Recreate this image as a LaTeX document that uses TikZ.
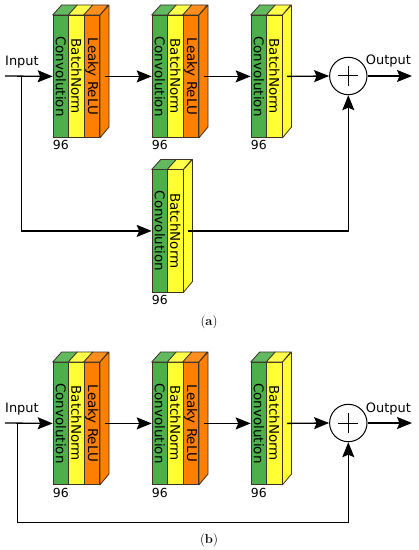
\documentclass[tikz,border=0pt]{standalone}
\usepackage{fontspec}
\usepackage{graphicx}
\newfontfamily\dv{DejaVu Sans}
\usetikzlibrary{arrows.meta}
\definecolor{cgreen}{RGB}{77,175,74}
\definecolor{cyellow}{RGB}{255,255,51}
\definecolor{corange}{RGB}{255,127,0}
\definecolor{edgec}{RGB}{60,50,40}
\tikzset{
 lay/.style={draw=edgec, line width=0.8bp, minimum width=15.5bp, minimum height=122bp, inner sep=0pt, anchor=north west, font=\dv\fontsize{13.5}{15}\selectfont},
 face/.style={draw=edgec, line width=0.8bp, line join=round},
 conn/.style={line width=1.3bp, black},
 arr/.style={conn, -{Stealth[length=15bp,width=12bp,inset=2.5bp]}},
 lbl/.style={font=\dv\fontsize{13}{15}\selectfont, inner sep=0pt, anchor=base west},
 num/.style={font=\dv\fontsize{12.5}{14}\selectfont, inner sep=0pt, anchor=base west},
 captext/.style={font=\fontsize{13}{15}\selectfont, inner sep=0pt},
 sumnode/.style={draw, circle, line width=1bp, minimum size=37.4bp, inner sep=0pt},
}
\newcommand\lyr[5]{%
 \node[lay, fill=#4] (#1) at (#2,#3) {\rotatebox{-90}{#5}};
 \draw[face, fill=#4!88!white] (#1.north west) -- ++(9,-10) -- ++(15.5,0) -- (#1.north east) -- cycle;
}
\newcommand\sidef[2]{%
 \draw[face, fill=#2] (#1.north east) -- ++(9,-10) -- ++(0,122) -- (#1.south east) -- cycle;
}
\newcommand\plusin[1]{%
 \draw[line width=1bp] ([xshift=-10bp]#1.center) -- ([xshift=10bp]#1.center);
 \draw[line width=1bp] ([yshift=-10bp]#1.center) -- ([yshift=10bp]#1.center);
}
\begin{document}
\begin{tikzpicture}[x=1bp,y=-1bp]
\useasboundingbox[fill=white] (0,0) rectangle (418,550);
% ---------------- (a) ----------------
\lyr{ga1}{52.7}{15}{cgreen}{Convolution}
\lyr{ya1}{68.2}{15}{cyellow}{BatchNorm}
\lyr{oa1}{83.7}{15}{corange}{Leaky ReLU}
\sidef{oa1}{corange}
\node[num] (na1) at (52.7,150) {96};
\lyr{ga2}{151.7}{15}{cgreen}{Convolution}
\lyr{ya2}{167.2}{15}{cyellow}{BatchNorm}
\lyr{oa2}{182.7}{15}{corange}{Leaky ReLU}
\sidef{oa2}{corange}
\node[num] (na2) at (151.7,150) {96};
\lyr{ga3}{250.7}{15}{cgreen}{Convolution}
\lyr{ya3}{266.2}{15}{cyellow}{BatchNorm}
\sidef{ya3}{cyellow}
\node[num] (na3) at (250.7,150) {96};
\lyr{ga4}{151.7}{169.5}{cgreen}{Convolution}
\lyr{ya4}{167.2}{169.5}{cyellow}{BatchNorm}
\sidef{ya4}{cyellow}
\node[num] (na4) at (151.7,304.5) {96};
\node[sumnode] (sa) at (348.3,76) {};
\plusin{sa}
\node[lbl] (ina) at (5,65.5) {Input};
\node[lbl] (outa) at (365.7,64.7) {Output};
\coordinate (sta) at (5,76);
\coordinate (bra) at (21.7,76);
\coordinate (enda) at (412,76);
\draw[arr] (sta) -- (ga1.west);
\draw[arr] (bra) |- (ga4.west);
\draw[arr] ([xshift=4.5bp]oa1.east) -- (ga2.west);
\draw[arr] ([xshift=4.5bp]oa2.east) -- (ga3.west);
\draw[arr] ([xshift=4.5bp]ya3.east) -- (sa.west);
\draw[arr] (sa.east) -- (enda);
\draw[arr] ([xshift=4.5bp]ya4.east) -| (sa.south);
\node[captext] (capa) at (209,322) {(\textbf{a})};
% ---------------- (b) ----------------
\lyr{gb1}{52.7}{362}{cgreen}{Convolution}
\lyr{yb1}{68.2}{362}{cyellow}{BatchNorm}
\lyr{ob1}{83.7}{362}{corange}{Leaky ReLU}
\sidef{ob1}{corange}
\node[num] (nb1) at (52.7,497) {96};
\lyr{gb2}{151.7}{362}{cgreen}{Convolution}
\lyr{yb2}{167.2}{362}{cyellow}{BatchNorm}
\lyr{ob2}{182.7}{362}{corange}{Leaky ReLU}
\sidef{ob2}{corange}
\node[num] (nb2) at (151.7,497) {96};
\lyr{gb3}{250.7}{362}{cgreen}{Convolution}
\lyr{yb3}{266.2}{362}{cyellow}{BatchNorm}
\sidef{yb3}{cyellow}
\node[num] (nb3) at (250.7,497) {96};
\node[sumnode] (sb) at (348.3,423) {};
\plusin{sb}
\node[lbl] (inb) at (5,412) {Input};
\node[lbl] (outb) at (365.7,412) {Output};
\coordinate (stb) at (5,423);
\coordinate (brb) at (17.7,423);
\coordinate (cnb) at (17.7,522.3);
\coordinate (endb) at (412,423);
\draw[arr] (stb) -- (gb1.west);
\draw[arr] (brb) -- (cnb) -| (sb.south);
\draw[arr] ([xshift=4.5bp]ob1.east) -- (gb2.west);
\draw[arr] ([xshift=4.5bp]ob2.east) -- (gb3.west);
\draw[arr] ([xshift=4.5bp]yb3.east) -- (sb.west);
\draw[arr] (sb.east) -- (endb);
\node[captext] (capb) at (209,540) {(\textbf{b})};
\end{tikzpicture}
\end{document}
